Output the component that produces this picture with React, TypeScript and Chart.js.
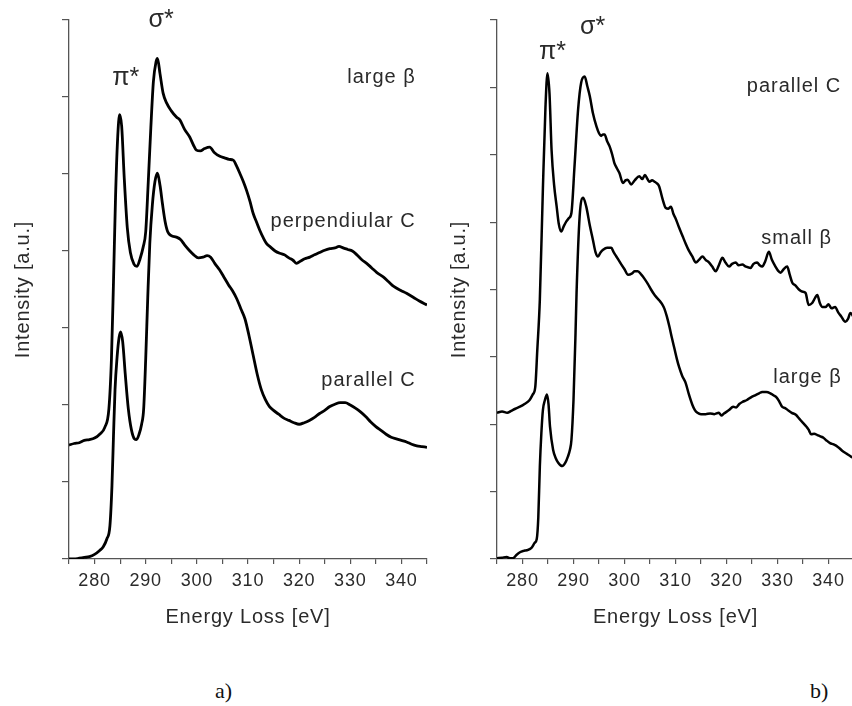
import React, { useEffect, useRef } from "react";
import { Chart, registerables } from "chart.js";

Chart.register(...registerables);

// ---------- data (energy loss [eV], intensity [a.u.]) ----------
const energyTicks = [280, 290, 300, 310, 320, 330, 340];

// panel a) upper curve: perpendicular C
const perpC_a: [number, number][] = [
  [275, 1.48], [276, 1.5], [277, 1.51], [278, 1.54], [279, 1.55], [280, 1.57], [281, 1.62], [282, 1.71],
  [282.8, 1.95], [283.3, 2.6], [283.7, 3.6], [284.1, 4.7], [284.5, 5.45], [284.9, 5.77], [285.3, 5.62],
  [285.8, 4.95], [286.4, 4.3], [287.0, 3.98], [287.7, 3.83], [288.3, 3.8], [288.9, 3.9], [289.5, 4.05],
  [290.0, 4.25], [290.5, 4.9], [291.0, 5.6], [291.5, 6.2], [292.0, 6.45], [292.3, 6.5], [292.8, 6.3],
  [293.4, 6.05], [294.1, 5.92], [295.0, 5.82], [296.0, 5.74], [296.7, 5.7], [297.6, 5.58], [298.6, 5.48],
  [299.3, 5.38], [299.9, 5.31], [300.7, 5.3], [301.5, 5.33], [302.5, 5.35], [303.4, 5.28], [304.5, 5.23],
  [305.4, 5.21], [306.3, 5.19], [307.1, 5.18], [307.8, 5.1], [308.4, 5.01], [309.1, 4.9], [309.7, 4.79],
  [310.4, 4.64], [311.0, 4.49], [311.7, 4.37], [312.3, 4.27], [313.0, 4.17], [313.6, 4.1], [314.4, 4.05],
  [315.3, 4.0], [316.2, 3.97], [317.1, 3.95], [318.0, 3.91], [318.8, 3.88], [319.5, 3.84], [320.3, 3.87],
  [321.1, 3.9], [322.1, 3.92], [323.0, 3.95], [324.0, 3.98], [325.0, 4.01], [326.0, 4.03], [327.0, 4.04],
  [327.8, 4.06], [328.6, 4.04], [329.5, 4.02], [330.4, 4.0], [331.3, 3.95], [332.2, 3.89], [333.2, 3.84],
  [334.2, 3.78], [335.2, 3.72], [336.5, 3.66], [337.5, 3.6], [338.5, 3.54], [339.8, 3.49], [341.0, 3.45],
  [342.3, 3.4], [343.5, 3.35], [345, 3.3],
];

// panel a) lower curve: parallel C
const parC_a: [number, number][] = [
  [275, 0.0], [276, 0.0], [277, 0.01], [278, 0.02], [279, 0.03], [280, 0.06], [281, 0.11], [281.7, 0.16],
  [282.4, 0.26], [283.0, 0.43], [283.4, 0.95], [283.7, 1.6], [284.0, 2.2], [284.4, 2.62], [284.8, 2.88],
  [285.1, 2.95], [285.5, 2.82], [286.0, 2.4], [286.6, 1.95], [287.2, 1.68], [287.8, 1.56], [288.2, 1.55],
  [288.7, 1.62], [289.2, 1.75], [289.6, 1.95], [290.0, 2.6], [290.4, 3.4], [290.8, 4.1], [291.3, 4.6],
  [291.8, 4.9], [292.3, 5.01], [292.8, 4.85], [293.3, 4.6], [293.8, 4.38], [294.3, 4.25], [295.0, 4.2],
  [296.0, 4.18], [296.8, 4.15], [297.6, 4.08], [298.5, 4.01], [299.4, 3.95], [300.3, 3.91], [301.2, 3.92],
  [302.0, 3.94], [302.7, 3.92], [303.5, 3.84], [304.4, 3.76], [305.3, 3.66], [306.2, 3.56], [307.0, 3.48],
  [307.8, 3.38], [308.6, 3.25], [309.4, 3.12], [310.2, 2.9], [311.0, 2.65], [311.8, 2.4], [312.6, 2.2],
  [313.4, 2.07], [314.2, 1.98], [315.0, 1.93], [316.0, 1.88], [317.0, 1.83], [318.0, 1.8], [319.0, 1.77],
  [320.0, 1.75], [321.0, 1.77], [322.0, 1.8], [323.0, 1.84], [324.0, 1.89], [325.0, 1.93], [326.0, 1.98],
  [327.0, 2.01], [328.0, 2.03], [329.0, 2.03], [330.0, 2.0], [331.0, 1.96], [332.0, 1.91], [333.0, 1.85],
  [334.0, 1.78], [335.0, 1.72], [336.0, 1.67], [337.0, 1.62], [338.0, 1.58], [339.0, 1.56], [340.0, 1.54],
  [341.0, 1.52], [342.0, 1.49], [343.0, 1.47], [344.0, 1.46], [345.0, 1.45],
];

// panel b) upper curve: parallel C (small beta)
const parC_b: [number, number][] = [
  [275, 2.17], [276, 2.19], [277, 2.17], [277.8, 2.2], [278.6, 2.23], [279.5, 2.26], [280.4, 2.3],
  [281.4, 2.36], [282.0, 2.44], [282.5, 2.55], [282.9, 3.1], [283.4, 3.85], [284.0, 5.5], [284.5, 6.7],
  [284.9, 7.21], [285.3, 6.9], [285.7, 6.07], [286.2, 5.55], [286.7, 5.23], [287.1, 4.98], [287.6, 4.86],
  [288.1, 4.94], [288.6, 5.01], [289.1, 5.06], [289.6, 5.14], [290.2, 5.83], [290.9, 6.67], [291.5, 7.07],
  [292.2, 7.16], [292.7, 7.02], [293.2, 6.87], [293.8, 6.62], [294.5, 6.42], [295.0, 6.32], [295.4, 6.28],
  [295.8, 6.3], [296.1, 6.3], [296.6, 6.2], [297.1, 6.12], [297.6, 6.0], [298.0, 5.88], [298.5, 5.8],
  [299.0, 5.73], [299.7, 5.58], [300.2, 5.62], [300.6, 5.63], [301.3, 5.56], [302.0, 5.62], [302.9, 5.68],
  [303.5, 5.64], [304.0, 5.7], [304.5, 5.64], [304.9, 5.6], [305.4, 5.62], [305.9, 5.6], [306.3, 5.58],
  [306.8, 5.53], [307.4, 5.36], [308.1, 5.21], [308.6, 5.2], [309.1, 5.23], [309.6, 5.12], [310.1, 5.04],
  [310.7, 4.92], [311.4, 4.79], [312.0, 4.68], [312.6, 4.58], [313.3, 4.49], [314.0, 4.4], [314.6, 4.44],
  [315.3, 4.49], [315.9, 4.44], [316.6, 4.4], [317.2, 4.34], [317.9, 4.27], [318.5, 4.36], [319.2, 4.47],
  [319.8, 4.4], [320.5, 4.34], [321.1, 4.38], [321.8, 4.4], [322.4, 4.36], [323.1, 4.37], [323.8, 4.34],
  [324.7, 4.32], [325.3, 4.38], [326.0, 4.4], [326.5, 4.36], [327.0, 4.34], [327.6, 4.42], [328.3, 4.56],
  [328.9, 4.44], [329.6, 4.34], [330.1, 4.28], [330.6, 4.25], [331.2, 4.3], [331.9, 4.34], [332.4, 4.22],
  [332.9, 4.1], [333.5, 4.06], [334.2, 4.0], [334.8, 3.97], [335.5, 3.95], [336.1, 3.77], [336.8, 3.8],
  [337.4, 3.88], [337.8, 3.92], [338.3, 3.8], [338.8, 3.74], [339.4, 3.74], [340.0, 3.78], [340.6, 3.72],
  [341.3, 3.74], [341.9, 3.66], [342.5, 3.6], [343.3, 3.52], [343.8, 3.56], [344.3, 3.65], [345.0, 3.58],
];

// panel b) lower curve: large beta
const largeB_b: [number, number][] = [
  [275, 0.01], [276, 0.02], [276.9, 0.03], [277.5, 0.01], [278.1, 0.01], [278.8, 0.06], [279.5, 0.1],
  [280.2, 0.12], [280.8, 0.13], [281.7, 0.16], [282.4, 0.24], [282.8, 0.3], [283.1, 0.62], [283.4, 1.37],
  [283.7, 1.87], [284.0, 2.21], [284.4, 2.36], [284.8, 2.44], [285.1, 2.3], [285.4, 1.96], [286.0, 1.62],
  [286.5, 1.5], [287.0, 1.43], [287.8, 1.38], [288.4, 1.43], [288.9, 1.52], [289.3, 1.62], [289.6, 1.77],
  [290.0, 2.36], [290.4, 3.36], [290.6, 3.95], [291.2, 5.08], [291.9, 5.36], [292.5, 5.23], [293.2, 4.95],
  [293.8, 4.74], [294.3, 4.56], [294.8, 4.49], [295.3, 4.55], [295.8, 4.59], [296.6, 4.62], [297.4, 4.62],
  [297.9, 4.55], [298.4, 4.49], [299.4, 4.37], [300.0, 4.3], [300.7, 4.22], [301.5, 4.24], [302.0, 4.27],
  [302.6, 4.27], [303.3, 4.22], [304.0, 4.15], [304.6, 4.08], [305.2, 4.0], [305.7, 3.94], [306.2, 3.89],
  [306.8, 3.84], [307.4, 3.78], [307.8, 3.72], [308.3, 3.6], [308.8, 3.45], [309.3, 3.28], [309.8, 3.12],
  [310.3, 2.96], [310.7, 2.85], [311.3, 2.72], [312.0, 2.61], [312.6, 2.45], [313.3, 2.29], [313.8, 2.21],
  [314.3, 2.17], [315.0, 2.15], [315.9, 2.15], [316.8, 2.16], [317.6, 2.15], [318.5, 2.17], [319.0, 2.13],
  [319.5, 2.16], [320.5, 2.21], [321.3, 2.26], [321.9, 2.25], [322.5, 2.3], [323.1, 2.33], [324.0, 2.36],
  [324.8, 2.4], [325.6, 2.43], [326.4, 2.46], [327.0, 2.48], [327.8, 2.48], [328.6, 2.46], [329.2, 2.43],
  [329.8, 2.4], [330.4, 2.33], [330.9, 2.26], [331.5, 2.24], [332.2, 2.2], [332.8, 2.17], [333.6, 2.14],
  [334.3, 2.08], [335.0, 2.02], [335.6, 1.97], [336.1, 1.92], [336.6, 1.85], [337.2, 1.86], [337.8, 1.84],
  [338.4, 1.82], [339.0, 1.8], [339.6, 1.76], [340.3, 1.72], [341.0, 1.7], [341.9, 1.66], [342.8, 1.6],
  [343.6, 1.56], [344.4, 1.52], [345.0, 1.5],
];

// text labels anchored in data coordinates [energy, intensity]
type Lbl = { text: string; e: number; v: number; kind: "peak" | "name" };
const labels_a: Lbl[] = [
  { text: "σ*", e: 293.0, v: 7.0, kind: "peak" },
  { text: "π*", e: 286.1, v: 6.25, kind: "peak" },
  { text: "large β", e: 342.8, v: 6.25, kind: "name" },
  { text: "perpendiular C", e: 342.8, v: 4.38, kind: "name" },
  { text: "parallel C", e: 342.8, v: 2.32, kind: "name" },
];
const labels_b: Lbl[] = [
  { text: "σ*", e: 293.75, v: 7.89, kind: "peak" },
  { text: "π*", e: 285.9, v: 7.53, kind: "peak" },
  { text: "parallel C", e: 342.5, v: 7.02, kind: "name" },
  { text: "small β", e: 340.7, v: 4.75, kind: "name" },
  { text: "large β", e: 342.6, v: 2.69, kind: "name" },
];

// ---------- styling ----------
const FONT = "'Liberation Sans', Arial, sans-serif";
const TEXT = "#2a2a2a";
const AXIS = "#555";

function makeLabelPlugin(items: Lbl[]) {
  return {
    id: "curveLabels",
    beforeDraw(chart: any) {
      chart.ctx.letterSpacing = "0.8px";
    },
    afterDraw(chart: any) {
      const { ctx, scales } = chart;
      ctx.save();
      ctx.fillStyle = TEXT;
      ctx.textBaseline = "middle";
      for (const l of items) {
        if (l.kind === "peak") {
          ctx.font = `25px ${FONT}`;
          ctx.letterSpacing = "0px";
          ctx.textAlign = "center";
        } else {
          ctx.font = `20px ${FONT}`;
          ctx.letterSpacing = "1px";
          ctx.textAlign = "right";
        }
        ctx.fillText(l.text, scales.x.getPixelForValue(l.e), scales.y.getPixelForValue(l.v));
      }
      ctx.restore();
    },
  };
}

type PanelProps = {
  left: number;
  width: number;
  height: number;
  yAxisWidth: number;
  padRight: number;
  yMax: number;
  yTitlePad: number;
  lineWidth: number;
  series: [number, number][][];
  labels: Lbl[];
};

function Panel(p: PanelProps) {
  const ref = useRef<HTMLCanvasElement | null>(null);
  useEffect(() => {
    if (!ref.current) return;
    const chart = new Chart(ref.current, {
      type: "line",
      data: {
        datasets: p.series.map((s) => ({
          data: s.map(([e, v]) => ({ x: e, y: v })),
          borderColor: "#000",
          borderWidth: p.lineWidth,
          pointRadius: 0,
          cubicInterpolationMode: "monotone",
          borderJoinStyle: "round",
          fill: false,
        })),
      },
      options: {
        responsive: false,
        animation: false,
        events: [],
        layout: { padding: { top: 20, right: p.padRight, left: 0, bottom: 0 } },
        plugins: { legend: { display: false }, tooltip: { enabled: false } },
        scales: {
          x: {
            type: "linear",
            min: 275,
            max: 345,
            afterFit: (s: any) => {
              s.height = 81;
            },
            ticks: {
              stepSize: 5,
              autoSkip: false,
              maxRotation: 0,
              padding: 6,
              color: TEXT,
              font: { family: FONT, size: 18 },
              callback: (v: any) => (energyTicks.includes(Number(v)) ? String(v) : ""),
            },
            grid: { drawOnChartArea: false, drawTicks: true, tickLength: 5, color: AXIS, lineWidth: 1.2 },
            border: { display: true, color: AXIS, width: 1.3 },
            title: {
              display: true,
              text: "Energy Loss [eV]",
              color: TEXT,
              font: { family: FONT, size: 20 },
              padding: { top: 0, bottom: 11 },
            },
          },
          y: {
            type: "linear",
            min: 0,
            max: p.yMax,
            afterFit: (s: any) => {
              s.width = p.yAxisWidth;
            },
            ticks: { stepSize: 1, display: false },
            grid: { drawOnChartArea: false, drawTicks: true, tickLength: 7, color: AXIS, lineWidth: 1.2 },
            border: { display: true, color: AXIS, width: 1.3 },
            title: {
              display: true,
              text: "Intensity [a.u.]",
              color: TEXT,
              font: { family: FONT, size: 20 },
              padding: { top: p.yTitlePad, bottom: 0 },
            },
          },
        },
      },
      plugins: [makeLabelPlugin(p.labels)],
    } as any);
    return () => chart.destroy();
  }, []);
  return (
    <canvas
      ref={ref}
      width={p.width}
      height={p.height}
      style={{ position: "absolute", left: p.left, top: 0, width: p.width, height: p.height }}
    />
  );
}

const captionStyle: React.CSSProperties = {
  position: "absolute",
  top: 680,
  fontFamily: "'Liberation Serif', 'DejaVu Serif', serif",
  fontSize: 22,
  lineHeight: "22px",
  color: "#111",
};

export default function App() {
  return (
    <div
      style={{
        position: "absolute",
        left: 0,
        top: 0,
        width: 852,
        height: 706,
        overflow: "hidden",
        background: "#fff",
      }}
    >
      <Panel
        left={0}
        width={440}
        height={640}
        yAxisWidth={69}
        padRight={13}
        yMax={7}
        yTitlePad={11}
        lineWidth={2.8}
        series={[perpC_a, parC_a]}
        labels={labels_a}
      />
      <Panel
        left={430}
        width={440}
        height={640}
        yAxisWidth={67}
        padRight={16}
        yMax={8}
        yTitlePad={17}
        lineWidth={2.5}
        series={[parC_b, largeB_b]}
        labels={labels_b}
      />
      <div style={{ ...captionStyle, left: 215 }}>a)</div>
      <div style={{ ...captionStyle, left: 810 }}>b)</div>
    </div>
  );
}
